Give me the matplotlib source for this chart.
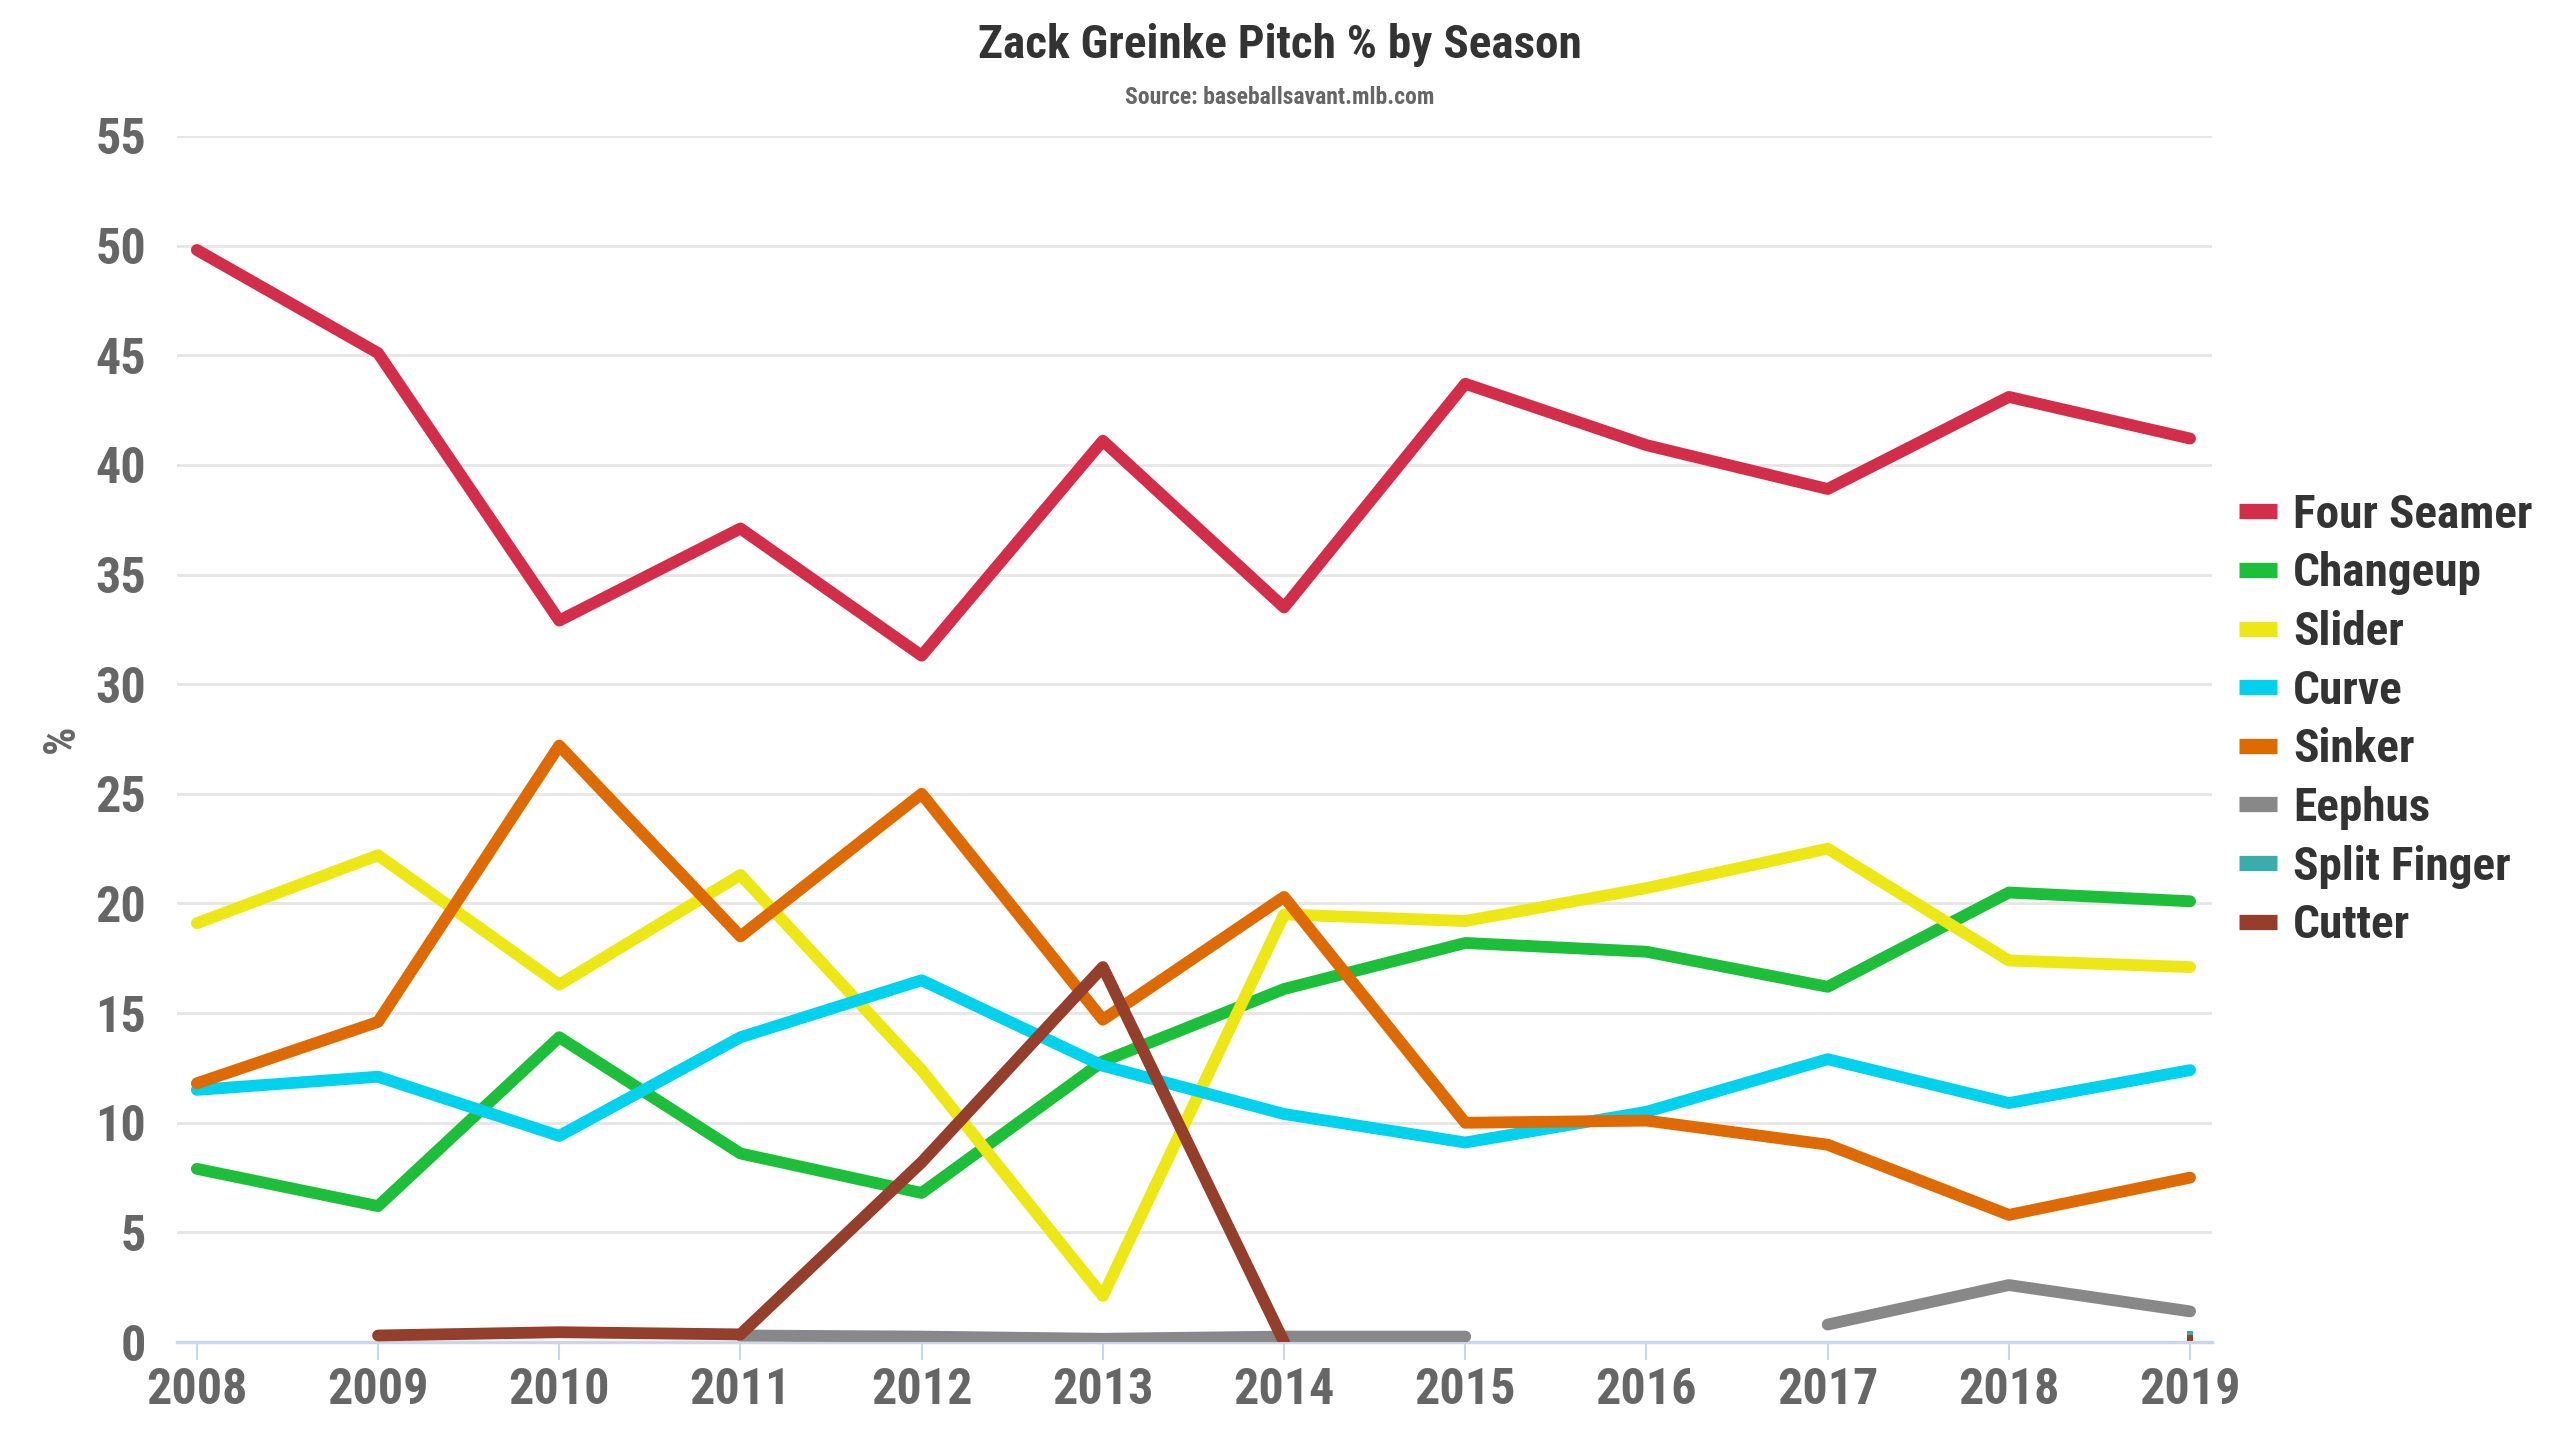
import numpy as np
import matplotlib.pyplot as plt
from matplotlib.lines import Line2D
from matplotlib import font_manager

# Season data (percent of pitches)
years = [2008, 2009, 2010, 2011, 2012, 2013, 2014, 2015, 2016, 2017, 2018, 2019]

four_seamer = [49.8, 45.1, 32.9, 37.1, 31.3, 41.1, 33.5, 43.7, 40.9, 38.9, 43.1, 41.2]
changeup = [7.9, 6.2, 13.9, 8.6, 6.8, 12.8, 16.1, 18.2, 17.8, 16.2, 20.5, 20.1]
slider = [19.1, 22.2, 16.3, 21.3, 12.4, 2.1, 19.5, 19.2, 20.7, 22.5, 17.4, 17.1]
curve = [11.5, 12.1, 9.4, 13.9, 16.5, 12.6, 10.4, 9.1, 10.5, 12.9, 10.9, 12.4]
sinker = [11.8, 14.6, 27.2, 18.5, 25.0, 14.7, 20.3, 10.0, 10.1, 9.0, 5.8, 7.5]
eephus = [None, None, None, 0.3, 0.25, 0.15, 0.25, 0.25, None, 0.8, 2.6, 1.4]
split_finger = [None, None, None, None, None, None, None, None, None, None, None, 0.35]
cutter = [None, 0.3, 0.45, 0.35, 8.2, 17.1, 0.0, None, None, None, None, 0.2]

names = ["Four Seamer", "Changeup", "Slider", "Curve", "Sinker",
         "Eephus", "Split Finger", "Cutter"]
colors = ["#D22D49", "#1DBE3A", "#EEE716", "#00D1ED", "#DE6A04",
          "#888888", "#3BACAC", "#933F2C"]
series = [four_seamer, changeup, slider, curve, sinker, eephus, split_finger, cutter]

# prefer a condensed face if one exists
installed = {f.name for f in font_manager.fontManager.ttflist}
narrow = [n for n in ['Roboto Condensed', 'Liberation Sans Narrow', 'Open Sans Condensed']
          if n in installed]
plt.rcParams['font.family'] = narrow + ['Roboto', 'DejaVu Sans']
condensed = len(narrow) > 0
k = 1.0 if condensed else 0.84  # shrink sizes when only a normal-width face is there

fig = plt.figure(figsize=(25.6, 14.4), dpi=100)
ax = fig.add_axes([0.0691, 0.068, 0.7949, 0.8376])

for name, vals, col in zip(names, series, colors):
    y = np.array([np.nan if v is None else v for v in vals], dtype=float)
    ax.plot(years, y, color=col, lw=8.5, solid_capstyle='round',
            solid_joinstyle='round', zorder=3)
    # isolated points (no neighbours) still get a small mark
    for i, v in enumerate(y):
        if np.isnan(v):
            continue
        left = i == 0 or np.isnan(y[i - 1])
        right = i == len(y) - 1 or np.isnan(y[i + 1])
        if left and right:
            ax.plot(years[i], v, marker='s', ms=5, color=col, mew=0, zorder=4)

ax.set_xlim(2007.89, 2019.12)
ax.set_ylim(0, 55)
ax.set_xticks(years)
ax.set_yticks(range(0, 56, 5))
ax.grid(axis='y', color='#e6e6e6', lw=2)
ax.set_axisbelow(True)
for s in ['top', 'right', 'left']:
    ax.spines[s].set_visible(False)
ax.spines['bottom'].set_color('#ccd6eb')
ax.spines['bottom'].set_linewidth(2.5)
ax.tick_params(axis='x', labelsize=36 * k, length=13, width=1.5,
               color='#ccd6eb', pad=5)
ax.tick_params(axis='y', labelsize=36 * k, length=0, pad=22)
for lab in ax.get_xticklabels() + ax.get_yticklabels():
    lab.set_fontweight('bold')
    lab.set_color('#666666')

ax.set_ylabel('%', fontsize=32 * k, color='#666666', fontweight='bold', labelpad=9)

fig.text(0.5, 0.969, 'Zack Greinke Pitch % by Season', ha='center', va='center',
         fontsize=34 * k, fontweight='bold', color='#333333')
fig.text(0.5, 0.932, 'Source: baseballsavant.mlb.com', ha='center', va='center',
         fontsize=17 * k, fontweight='bold', color='#666666')

handles = [Line2D([0], [0], color=c, lw=11, solid_capstyle='butt') for c in colors]
leg = fig.legend(handles, names, loc='center left', bbox_to_anchor=(0.858, 0.5),
                 frameon=False, fontsize=34 * k, handlelength=0.8, handletextpad=0.35,
                 labelspacing=0.31 / k)
for t in leg.get_texts():
    t.set_color('#333333')
    t.set_fontweight('bold')

fig.savefig('out.png', dpi=100, facecolor='white')
